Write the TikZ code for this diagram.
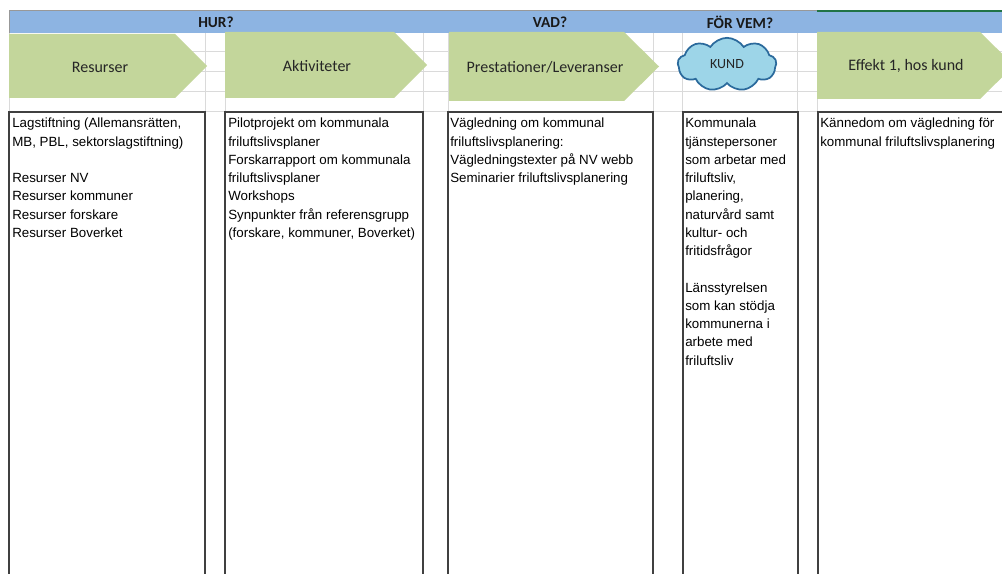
\documentclass[tikz,border=0pt]{standalone}
\usepackage{fontspec}
\setmainfont{Liberation Sans}
\newfontfamily\calib{Carlito}
\usetikzlibrary{shapes.symbols}
\definecolor{hdrblue}{HTML}{8DB4E2}
\definecolor{arrowgreen}{HTML}{C3D69B}
\definecolor{gridgray}{HTML}{DADADA}
\definecolor{boxline}{HTML}{404040}
\definecolor{cloudfill}{HTML}{9DD5E8}
\definecolor{cloudline}{HTML}{2B6A9C}
\definecolor{xlgreen}{HTML}{217346}
\tikzset{
  gridline/.style={draw=gridgray, line width=0.75pt},
  hdrtext/.style={font=\calib\bfseries\fontsize{11.5}{13}\selectfont, text=black!90, inner sep=0pt},
  arrowshape/.style={fill=arrowgreen, draw=none},
  arrowtext/.style={font=\calib\fontsize{12}{14}\selectfont, text=black!85, inner sep=0pt},
  colbox/.style={draw=boxline, fill=white, line width=0.8pt},
  boxtext/.style={anchor=north west, inner sep=0pt, align=left, font=\fontsize{10}{13.7}\selectfont, text=black},
}
\newcommand{\fs}{\rule{0pt}{7.5pt}}
\begin{document}
\begin{tikzpicture}[x=0.75pt, y=-0.75pt]
\path[use as bounding box] (0,0) rectangle (1002,574);
\clip (0,0) rectangle (1002,574);
\fill[white] (0,0) rectangle (1002,574);
% grid lines
\foreach \yy in {52,72,92,112} \draw[gridline] (9,\yy) -- (1002,\yy);
\foreach \xx in {9,205,225,423,448,653,682,797,817} \draw[gridline] (\xx,33) -- (\xx,112);
% header bar
\fill[hdrblue] (9,11) rectangle (1002,33);
\draw[gridgray!70!black, line width=0.75pt] (9,33) -- (9,11) -- (817,11);
\draw[xlgreen, line width=0.9pt] (817,11) -- (1002,11);
\node[hdrtext] (hur) at (216,22) {HUR?};
\node[hdrtext] (vad) at (550,22) {VAD?};
\node[hdrtext] (forvem) at (740,22) {FÖR VEM?};
% arrows
\fill[arrowshape] (9,34) -- (175,34) -- (207,66) -- (175,98) -- (9,98) -- cycle;
\node[arrowtext] (resurser) at (100,67) {Resurser};
\fill[arrowshape] (225,32) -- (394,32) -- (427,65) -- (394,98) -- (225,98) -- cycle;
\node[arrowtext] (aktiviteter) at (317,66) {Aktiviteter};
\fill[arrowshape] (449,32) -- (624,32) -- (659,66.5) -- (624,101) -- (449,101) -- cycle;
\node[arrowtext] (prestationer) at (545,67) {Prestationer/Leveranser};
\fill[arrowshape] (817,32) -- (980,32) -- (1014,65.5) -- (980,99) -- (817,99) -- cycle;
\node[arrowtext] (effekt) at (906,66) {Effekt 1, hos kund};
% cloud
\node[cloud, cloud puffs=9, cloud puff arc=115, aspect=1.8, draw=cloudline, fill=cloudfill,
      line width=1.3pt, minimum width=74pt, minimum height=40pt, inner sep=0pt,
      font=\calib\fontsize{10.5}{12}\selectfont, text=black!85] (kund) at (727,64.5) {KUND};
% boxes
\draw[colbox] (9,600) -- (9,112) -- (205,112) -- (205,600);
\draw[colbox] (225,600) -- (225,112) -- (423,112) -- (423,600);
\draw[colbox] (448,600) -- (448,112) -- (653,112) -- (653,600);
\draw[colbox] (683,600) -- (683,112) -- (798,112) -- (798,600);
\draw[colbox] (818,600) -- (818,112) -- (1010,112);
% box texts
\node[boxtext] (t1) at (12,117.5) {\fs Lagstiftning (Allemansrätten,\\MB, PBL, sektorslagstiftning)\\[13.7pt]Resurser NV\\Resurser kommuner\\Resurser forskare\\Resurser Boverket};
\node[boxtext] (t2) at (228,117.5) {\fs Pilotprojekt om kommunala\\friluftslivsplaner\\Forskarrapport om kommunala\\friluftslivsplaner\\Workshops\\Synpunkter från referensgrupp\\(forskare, kommuner, Boverket)};
\node[boxtext] (t3) at (450,117.5) {\fs Vägledning om kommunal\\friluftslivsplanering:\\Vägledningstexter på NV webb\\Seminarier friluftslivsplanering};
\node[boxtext] (t4) at (685,117.5) {\fs Kommunala\\tjänstepersoner\\som arbetar med\\friluftsliv,\\planering,\\naturvård samt\\kultur- och\\fritidsfrågor\\[13.7pt]Länsstyrelsen\\som kan stödja\\kommunerna i\\arbete med\\friluftsliv};
\node[boxtext] (t5) at (820,117.5) {\fs Kännedom om vägledning för\\kommunal friluftslivsplanering};
\end{tikzpicture}
\end{document}
